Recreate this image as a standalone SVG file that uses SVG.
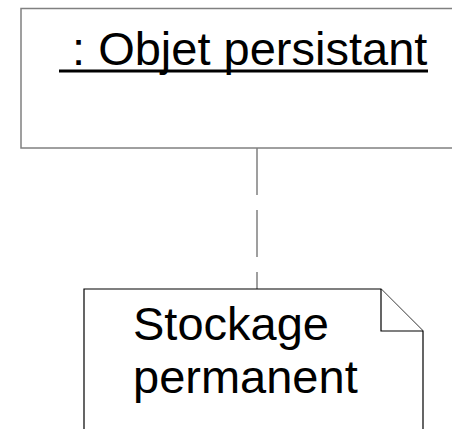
<svg xmlns="http://www.w3.org/2000/svg" width="452" height="429" viewBox="0 0 452 429">
  <style>
    .label { font-family: "Liberation Sans", Arial, sans-serif; font-size: 47px; fill: #000; }
    .box { fill: #fff; stroke: #808080; stroke-width: 1.5; }
    .note { fill: #fff; stroke: #000; stroke-width: 1.2; }
    .link { fill: none; stroke: #808080; stroke-width: 1.5; stroke-dasharray: 47 15; }
  </style>
  <rect width="452" height="429" fill="#fff"/>
  <g id="connectors">
    <line class="link" x1="257" y1="148" x2="257" y2="289"/>
  </g>
  <g id="objet-persistant">
    <rect class="box" x="21" y="8.5" width="460" height="139.5"/>
    <text class="label" x="59" y="65" xml:space="preserve"> : Objet persistant</text>
    <rect x="59" y="69.5" width="369" height="3" fill="#000"/>
  </g>
  <g id="stockage-permanent">
    <path class="note" d="M84 289 H381 L423 331 V440 H84 Z"/>
    <path class="note" d="M381 289 V331 H423"/>
    <text class="label" x="133" y="340">Stockage</text>
    <text class="label" x="133" y="393">permanent</text>
  </g>
</svg>
